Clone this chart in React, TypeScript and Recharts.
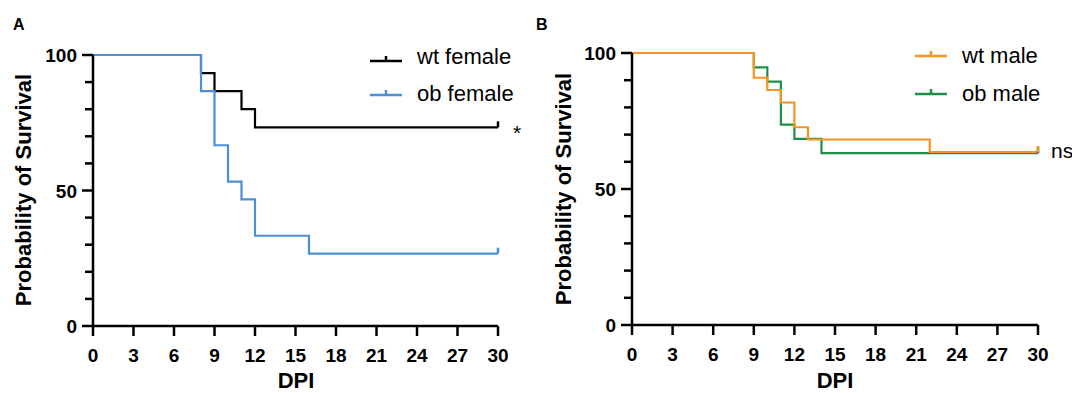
import { LineChart, Line, XAxis, YAxis } from 'recharts';

const dpiTicks = [0, 3, 6, 9, 12, 15, 18, 21, 24, 27, 30];
const survivalTicks = [0, 10, 20, 30, 40, 50, 60, 70, 80, 90, 100];
const labelledSurvival = [0, 50, 100];

// panel A (female)
const wtFemale = [
    { t: 0, s: 100 },
    { t: 8, s: 93.3 },
    { t: 9, s: 86.7 },
    { t: 11, s: 80 },
    { t: 12, s: 73.3 },
    { t: 30, s: 73.3 },
];
const obFemale = [
    { t: 0, s: 100 },
    { t: 8, s: 86.7 },
    { t: 9, s: 66.7 },
    { t: 10, s: 53.3 },
    { t: 11, s: 46.7 },
    { t: 12, s: 33.3 },
    { t: 16, s: 26.7 },
    { t: 30, s: 26.7 },
];

// panel B (male)
const wtMale = [
    { t: 0, s: 100 },
    { t: 9, s: 90.9 },
    { t: 10, s: 86.4 },
    { t: 11, s: 81.8 },
    { t: 12, s: 72.7 },
    { t: 13, s: 68.2 },
    { t: 22, s: 63.6 },
    { t: 30, s: 63.6 },
];
const obMale = [
    { t: 0, s: 100 },
    { t: 9, s: 94.7 },
    { t: 10, s: 89.5 },
    { t: 11, s: 73.7 },
    { t: 12, s: 68.4 },
    { t: 14, s: 63.2 },
    { t: 30, s: 63.2 },
];

const FONT = '"Liberation Sans", Arial, Helvetica, sans-serif';
const BLACK = '#000000';
const BLUE = '#4d8fd4';
const ORANGE = '#f7941d';
const GREEN = '#1e8f46';

const YTick = (props: any) => {
    const { x, y, payload } = props;
    const major = labelledSurvival.includes(payload.value);
    return (
        <g>
            <line x1={x - (major ? 11 : 8)} y1={y} x2={x} y2={y} stroke={BLACK} strokeWidth={2.5} />
            {major && (
                <text x={x - 16} y={y + 7} textAnchor="end" fontSize={19} fontWeight="bold" fontFamily={FONT} fill={BLACK}>
                    {payload.value}
                </text>
            )}
        </g>
    );
};

const XTick = (props: any) => {
    const { x, y, payload } = props;
    return (
        <g>
            <line x1={x} y1={y} x2={x} y2={y + 10} stroke={BLACK} strokeWidth={2.5} />
            <text x={x} y={y + 36} textAnchor="middle" fontSize={19} fontWeight="bold" fontFamily={FONT} fill={BLACK}>
                {payload.value}
            </text>
        </g>
    );
};

// censor tick on the last point only
const censor = (color: string, count: number) => (p: any) => {
    if (p.index !== count - 1) return <g key={p.index} />;
    return <line key={p.index} x1={p.cx} y1={p.cy} x2={p.cx} y2={p.cy - 6} stroke={color} strokeWidth={2.5} />;
};

function Panel({ left, width, margin, series }: any) {
    return (
        <div style={{ position: 'absolute', left, top: 0 }}>
            <LineChart width={width} height={393} margin={margin}>
                <XAxis
                    dataKey="t"
                    type="number"
                    domain={[0, 30]}
                    ticks={dpiTicks}
                    interval={0}
                    height={30}
                    tickSize={0}
                    tickMargin={0}
                    tick={<XTick />}
                    axisLine={{ stroke: BLACK, strokeWidth: 2.5 }}
                    allowDuplicatedCategory={false}
                />
                <YAxis
                    dataKey="s"
                    type="number"
                    domain={[0, 100]}
                    ticks={survivalTicks}
                    interval={0}
                    width={60}
                    tickSize={0}
                    tickMargin={0}
                    tick={<YTick />}
                    axisLine={{ stroke: BLACK, strokeWidth: 2.5 }}
                />
                {series.map((s: any) => (
                    <Line
                        key={s.name}
                        data={s.data}
                        dataKey="s"
                        name={s.name}
                        type="stepAfter"
                        stroke={s.color}
                        strokeWidth={2.2}
                        dot={censor(s.color, s.data.length)}
                        activeDot={false}
                        isAnimationActive={false}
                    />
                ))}
            </LineChart>
        </div>
    );
}

const LegendRow = ({ x, y, textY, color, label }: any) => (
    <g>
        <line x1={x} y1={y} x2={x + 32} y2={y} stroke={color} strokeWidth={2.5} />
        <line x1={x + 16} y1={y} x2={x + 16} y2={y - 5} stroke={color} strokeWidth={2.5} />
        <text x={x + 47} y={textY} fontSize={22} fontFamily={FONT} fill={BLACK}>
            {label}
        </text>
    </g>
);

export default function App() {
    return (
        <div style={{ position: 'absolute', left: 0, top: 0, width: 1072, height: 393, background: '#fff', overflow: 'hidden' }}>
            <Panel
                left={0}
                width={540}
                margin={{ top: 55, right: 42, bottom: 37, left: 33 }}
                series={[
                    { name: 'wt female', data: wtFemale, color: BLACK },
                    { name: 'ob female', data: obFemale, color: BLUE },
                ]}
            />
            <Panel
                left={540}
                width={532}
                margin={{ top: 53, right: 34, bottom: 38, left: 32 }}
                series={[
                    { name: 'ob male', data: obMale, color: GREEN },
                    { name: 'wt male', data: wtMale, color: ORANGE },
                ]}
            />
            <svg width={1072} height={393} style={{ position: 'absolute', left: 0, top: 0, pointerEvents: 'none' }}>
                <text x={13} y={30} fontSize={16} fontWeight="bold" fontFamily={FONT}>A</text>
                <text x={536} y={30} fontSize={16} fontWeight="bold" fontFamily={FONT}>B</text>

                <text x={0} y={0} transform="translate(31,190) rotate(-90)" textAnchor="middle" fontSize={22} fontWeight="bold" fontFamily={FONT}>
                    Probability of Survival
                </text>
                <text x={0} y={0} transform="translate(571,189) rotate(-90)" textAnchor="middle" fontSize={22} fontWeight="bold" fontFamily={FONT}>
                    Probability of Survival
                </text>
                <text x={296} y={388} textAnchor="middle" fontSize={22} fontWeight="bold" fontFamily={FONT}>DPI</text>
                <text x={835} y={388} textAnchor="middle" fontSize={22} fontWeight="bold" fontFamily={FONT}>DPI</text>

                <LegendRow x={370} y={61} textY={64} color={BLACK} label="wt female" />
                <LegendRow x={370} y={95} textY={101} color={BLUE} label="ob female" />
                <LegendRow x={915} y={56} textY={63} color={ORANGE} label="wt male" />
                <LegendRow x={915} y={94} textY={101} color={GREEN} label="ob male" />

                <text x={513} y={140} fontSize={21} fontFamily={FONT}>*</text>
                <text x={1051} y={158} fontSize={21} fontFamily={FONT}>ns</text>
            </svg>
        </div>
    );
}
